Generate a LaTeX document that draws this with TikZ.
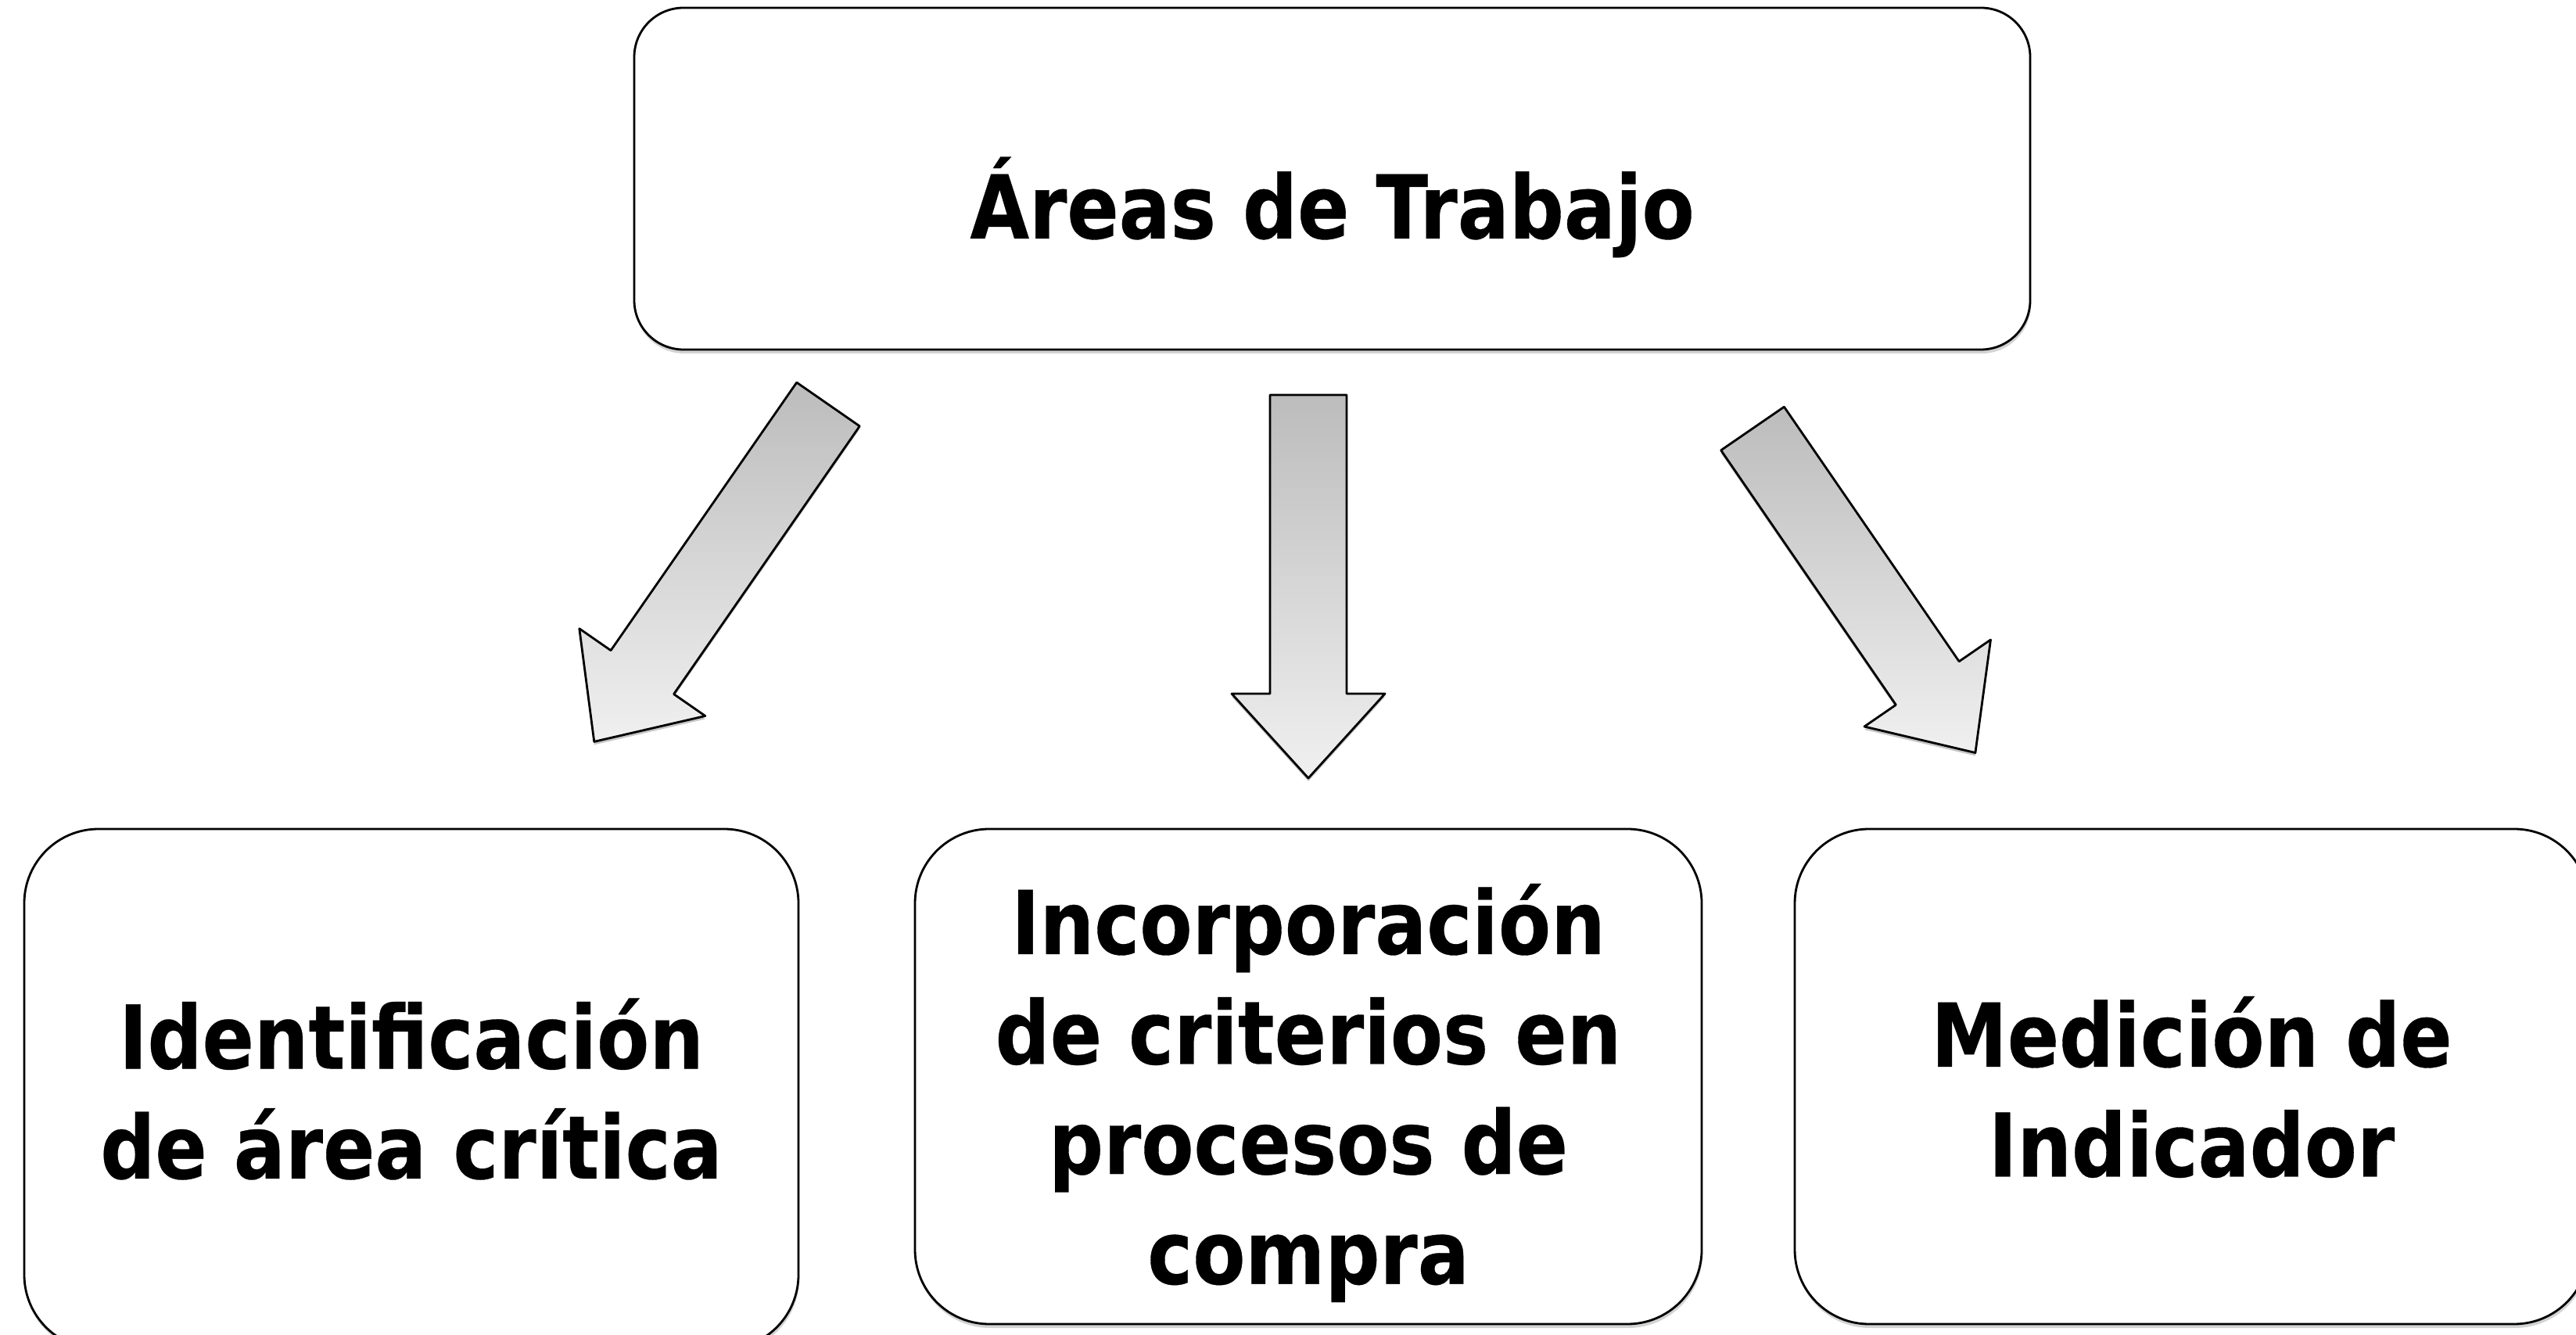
\documentclass[tikz,border=0pt]{standalone}
\usepackage{fontspec}
\setmainfont{DejaVu Sans}[FakeStretch=0.87,FakeBold=0.3]
\usetikzlibrary{shadows}
\definecolor{arrtop}{RGB}{188,188,188}
\definecolor{arrbot}{RGB}{240,240,240}
\newcommand{\alza}[1]{\raisebox{#1}{\vphantom{Ió}}}
\begin{document}
\begin{tikzpicture}[line join=round, line cap=round, font=\bfseries\fontsize{32}{40}\selectfont,
	caja/.style={draw, line width=0.8pt, fill=white, align=center, rounded corners=0.95cm,
		drop shadow={shadow xshift=0.01cm, shadow yshift=-0.05cm, opacity=0.35}},
	flecha/.style={draw, line width=0.8pt, top color=arrtop, bottom color=arrbot,
		drop shadow={shadow xshift=0cm, shadow yshift=-0.04cm, opacity=0.45}}]
			\useasboundingbox (0,0) rectangle (32.94,17.06);
			\clip (0,0) rectangle (32.94,17.06);
			\path 
			(17.035,14.775) node[caja, rounded corners=0.63cm, minimum width=17.85cm, minimum height=4.37cm, text height=1.77cm] (T) {Áreas de Trabajo}
			(5.26,3.135) node[caja, minimum width=9.90cm, minimum height=6.65cm] (A) {Identificación\\de área crítica}
			(16.73,3.295) node[caja, minimum width=10.06cm, minimum height=6.33cm] (B) {\alza{0.42cm}Incorporación\\de criterios en\\procesos de\\compra}
			(28.025,3.295) node[caja, minimum width=10.15cm, minimum height=6.33cm] (C) {\alza{0.27cm}Medición de\\Indicador}
			(10.59,11.89) coordinate (la)
			(16.73,12.01) coordinate (ma)
			(22.41,11.58) coordinate (ra)
			;
			\foreach \p/\a/\l in {la/-124.75/5.25,ma/-90/4.90,ra/-55.5/5.03}
			\draw[flecha, shift={(\p)}, rotate=\a] (0,-0.49) -- ({\l-1.08},-0.49) -- ({\l-1.08},-0.98) -- (\l,0) -- ({\l-1.08},0.98) -- ({\l-1.08},0.49) -- (0,0.49) -- cycle;
			\end{tikzpicture}
\end{document}
